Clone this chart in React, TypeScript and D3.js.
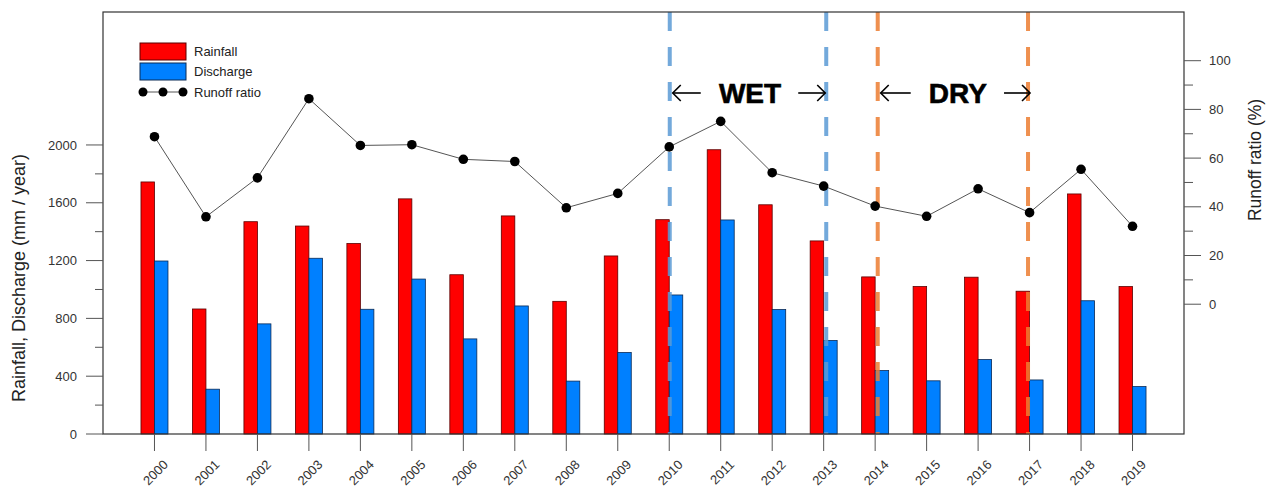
import React from "react";
import * as d3 from "d3";

// Annual totals per year
const years = [2000, 2001, 2002, 2003, 2004, 2005, 2006, 2007, 2008, 2009, 2010, 2011, 2012, 2013, 2014, 2015, 2016, 2017, 2018, 2019];
const rainfall = [1744, 865, 1469, 1439, 1318, 1627, 1102, 1509, 918, 1232, 1483, 1967, 1586, 1336, 1087, 1020, 1085, 988, 1661, 1020];
const discharge = [1197, 310, 762, 1216, 863, 1072, 658, 886, 366, 564, 962, 1481, 861, 647, 439, 368, 515, 374, 922, 328];
const runoffRatio = [68.8, 35.9, 51.9, 84.4, 65.2, 65.5, 59.5, 58.6, 39.6, 45.5, 64.6, 75.1, 54.0, 48.5, 40.3, 36.1, 47.4, 37.6, 55.4, 32.0];

// Left axis ticks (mm / year) and right axis ticks (%)
const leftMajor = [0, 400, 800, 1200, 1600, 2000];
const leftMinor = [200, 600, 1000, 1400, 1800];
const rightMajor = [0, 20, 40, 60, 80, 100];
const rightMinor = [10, 30, 50, 70, 90];

// Period boundaries (year positions on the x scale)
const wetBounds = [2010.01, 2013.05];
const dryBounds = [2014.05, 2016.97];

const W = 1269;
const H = 489;
const plot = { left: 103, right: 1184, top: 12, bottom: 434 };
const FONT = "'Liberation Sans', Arial, sans-serif";

export default function App() {
  const x = d3.scaleLinear().domain([1999, 2020]).range([plot.left, plot.right]);
  const yL = d3.scaleLinear().domain([0, 2920]).range([plot.bottom, plot.top]);
  const yR = d3.scaleLinear().domain([-53.3, 120]).range([plot.bottom, plot.top]);
  const barW = 13.5;

  const line = d3
    .line<number>()
    .x((_, i) => x(years[i]))
    .y((d) => yR(d));

  const arrow = (x1: number, x2: number, y: number, key: string) => {
    // Open-head horizontal arrow pointing toward x2
    const dir = x2 > x1 ? 1 : -1;
    const h = 8;
    return (
      <g key={key} stroke="#000" strokeWidth={1.6} fill="none">
        <line x1={x1} y1={y} x2={x2} y2={y} />
        <polyline points={`${x2 - dir * h},${y - h} ${x2},${y} ${x2 - dir * h},${y + h}`} />
      </g>
    );
  };

  const arrowY = 93;

  return (
    <svg
      width={W}
      height={H}
      style={{ position: "absolute", left: 0, top: 0, background: "#fff" }}
      fontFamily={FONT}
    >
      <rect x={0} y={0} width={W} height={H} fill="#fff" />

      {/* bars */}
      {years.map((yr, i) => (
        <g key={yr}>
          <rect
            x={x(yr) - barW}
            y={yL(rainfall[i])}
            width={barW}
            height={yL(0) - yL(rainfall[i])}
            fill="#ff0000"
            stroke="#5a0000"
            strokeWidth={0.8}
          />
          <rect
            x={x(yr)}
            y={yL(discharge[i])}
            width={barW}
            height={yL(0) - yL(discharge[i])}
            fill="#0080ff"
            stroke="#0a2a55"
            strokeWidth={0.8}
          />
        </g>
      ))}

      {/* period boundaries */}
      {wetBounds.map((b, i) => (
        <line
          key={"w" + i}
          x1={x(b)}
          x2={x(b)}
          y1={plot.top}
          y2={plot.bottom}
          stroke="#5b9bd5"
          strokeWidth={4}
          strokeDasharray="19 16"
          opacity={0.85}
        />
      ))}
      {dryBounds.map((b, i) => (
        <line
          key={"d" + i}
          x1={x(b)}
          x2={x(b)}
          y1={plot.top}
          y2={plot.bottom}
          stroke="#ed7d31"
          strokeWidth={4}
          strokeDasharray="19 16"
          opacity={0.85}
        />
      ))}

      {/* period labels */}
      {arrow(x(wetBounds[0]) + 31, x(wetBounds[0]) + 3, arrowY, "wl")}
      {arrow(x(wetBounds[1]) - 28, x(wetBounds[1]) - 1, arrowY, "wr")}
      <text
        x={(x(wetBounds[0]) + x(wetBounds[1])) / 2 + 2}
        y={arrowY + 10}
        textAnchor="middle"
        fontSize={28}
        fontWeight="bold"
        stroke="#000"
        strokeWidth={0.6}
        fill="#000"
      >
        WET
      </text>
      {arrow(x(dryBounds[0]) + 33, x(dryBounds[0]) + 3, arrowY, "dl")}
      {arrow(x(dryBounds[1]) - 24, x(dryBounds[1]) + 2, arrowY, "dr")}
      <text
        x={(x(dryBounds[0]) + x(dryBounds[1])) / 2 + 5}
        y={arrowY + 10}
        textAnchor="middle"
        fontSize={28}
        fontWeight="bold"
        stroke="#000"
        strokeWidth={0.6}
        fill="#000"
      >
        DRY
      </text>

      {/* runoff ratio line */}
      <path d={line(runoffRatio) || ""} fill="none" stroke="#555" strokeWidth={1} />
      {runoffRatio.map((v, i) => (
        <circle key={i} cx={x(years[i])} cy={yR(v)} r={4.8} fill="#000" />
      ))}

      {/* frame */}
      <rect
        x={plot.left}
        y={plot.top}
        width={plot.right - plot.left}
        height={plot.bottom - plot.top}
        fill="none"
        stroke="#333"
        strokeWidth={1.2}
      />

      {/* left axis */}
      {leftMajor.map((v) => (
        <g key={"lM" + v}>
          <line x1={plot.left - 17} x2={plot.left} y1={yL(v)} y2={yL(v)} stroke="#555" />
          <text x={plot.left - 26} y={yL(v)} dy="0.35em" textAnchor="end" fontSize={13} fill="#333">
            {v}
          </text>
        </g>
      ))}
      {leftMinor.map((v) => (
        <line key={"lm" + v} x1={plot.left - 8} x2={plot.left} y1={yL(v)} y2={yL(v)} stroke="#555" />
      ))}
      <text
        transform={`translate(25, 278) rotate(-90)`}
        textAnchor="middle"
        fontSize={18}
        fill="#222"
      >
        Rainfall, Discharge (mm / year)
      </text>

      {/* right axis */}
      {rightMajor.map((v) => (
        <g key={"rM" + v}>
          <line x1={plot.right} x2={plot.right + 17} y1={yR(v)} y2={yR(v)} stroke="#555" />
          <text x={plot.right + 25} y={yR(v)} dy="0.35em" textAnchor="start" fontSize={13} fill="#333">
            {v}
          </text>
        </g>
      ))}
      {rightMinor.map((v) => (
        <line key={"rm" + v} x1={plot.right} x2={plot.right + 9} y1={yR(v)} y2={yR(v)} stroke="#555" />
      ))}
      <text
        transform={`translate(1261, 160) rotate(-90)`}
        textAnchor="middle"
        fontSize={17.5}
        fill="#222"
      >
        Runoff ratio (%)
      </text>

      {/* x axis */}
      {years.map((yr) => (
        <g key={"x" + yr}>
          <line x1={x(yr)} x2={x(yr)} y1={plot.bottom} y2={plot.bottom + 17} stroke="#555" />
          <text
            transform={`translate(${x(yr) + 8}, ${plot.bottom + 25}) rotate(-45)`}
            textAnchor="end"
            dy="0.7em"
            fontSize={13}
            fill="#333"
          >
            {yr}
          </text>
        </g>
      ))}

      {/* legend */}
      <g fontSize={13} fill="#222">
        <rect x={140} y={43} width={46} height={17} fill="#ff0000" stroke="#5a0000" strokeWidth={1} />
        <text x={194} y={56}>Rainfall</text>
        <rect x={140} y={63} width={46} height={17} fill="#0080ff" stroke="#0a2a55" strokeWidth={1} />
        <text x={194} y={76}>Discharge</text>
        <line x1={143} x2={183} y1={92} y2={92} stroke="#555" />
        {[143, 163, 183].map((cx) => (
          <circle key={cx} cx={cx} cy={92} r={4.5} fill="#000" />
        ))}
        <text x={194} y={97}>Runoff ratio</text>
      </g>
    </svg>
  );
}
